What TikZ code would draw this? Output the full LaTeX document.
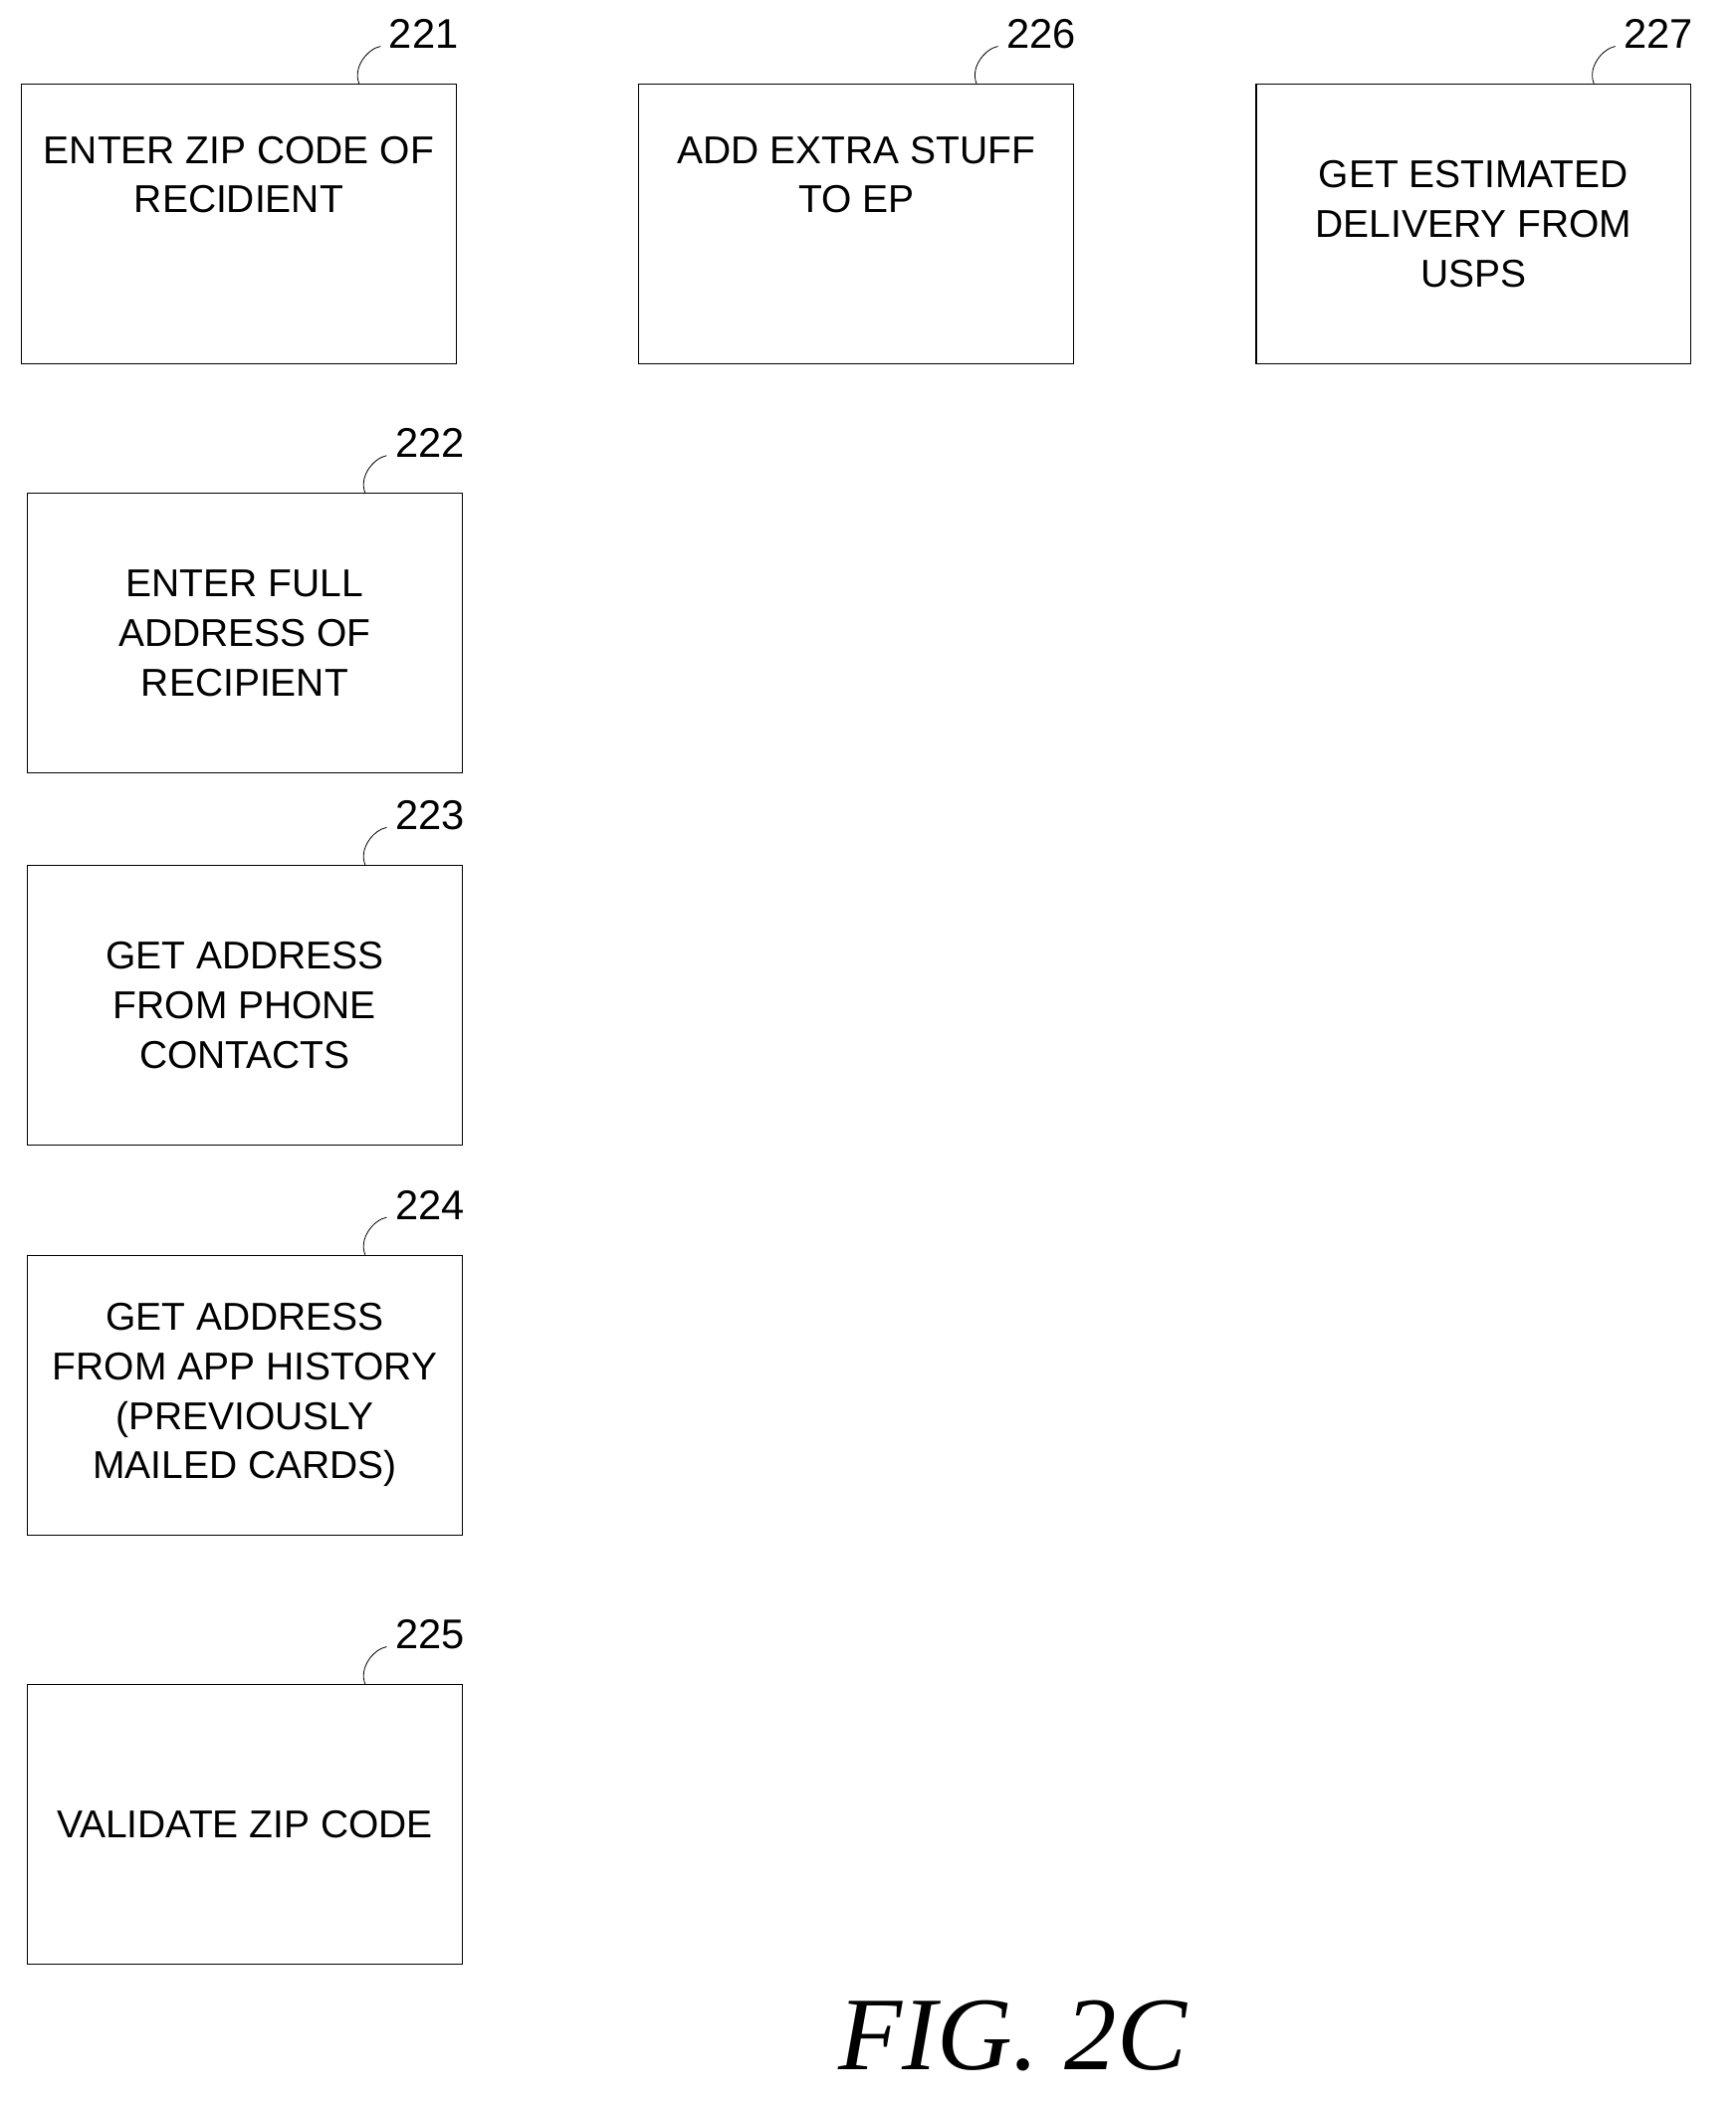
\documentclass[tikz,border=0pt]{standalone}
\usepackage{fontspec}
\setmainfont{Liberation Sans}
\newfontfamily\figfont{Liberation Serif}
\usetikzlibrary{positioning}
\begin{document}
\begin{tikzpicture}[x=1pt,y=-1pt,thick,
  blk/.style={draw, minimum width=325pt, minimum height=209pt, align=center,
    font=\fontsize{29}{37}\selectfont, inner sep=2pt},
  tag/.style={anchor=south west, font=\fontsize{31}{31}\selectfont, inner sep=0pt}]
\useasboundingbox (0,0) rectangle (1297,1573);
\node[blk] (s221) at (178.5,167.5) {ENTER ZIP CODE OF\\RECIDIENT\\[37pt]};
\node[blk] (s226) at (640,167.5) {ADD EXTRA STUFF\\TO EP\\[37pt]};
\node[blk] (s227) at (1101.5,167.5) {GET ESTIMATED\\DELIVERY FROM\\USPS};
\node[blk] (s222) at (183,473.5) {ENTER FULL\\ADDRESS OF\\RECIPIENT};
\node[blk] (s223) at (183,751.5) {GET ADDRESS\\FROM PHONE\\CONTACTS};
\node[blk] (s224) at (183,1043) {GET ADDRESS\\FROM APP HISTORY\\(PREVIOUSLY\\MAILED CARDS)};
\node[blk] (s225) at (183,1364) {VALIDATE ZIP CODE};
% reference numerals with leaders
\foreach \b/\t in {s221/221,s226/226,s227/227,s222/222,s223/223,s224/224,s225/225}{
  \coordinate (l\t) at ([xshift=90pt]\b.north);
  \draw[semithick] (l\t) .. controls +(-5,-12) and +(-10,2) .. ++(16,-28) coordinate (e\t);
  \node[tag] (n\t) at ([xshift=6pt,yshift=-2pt]e\t) {\t};
}
\node[font=\fontsize{78}{78}\selectfont\figfont\itshape] (fig) at (757,1522) {FIG. 2C};
\end{tikzpicture}
\end{document}
